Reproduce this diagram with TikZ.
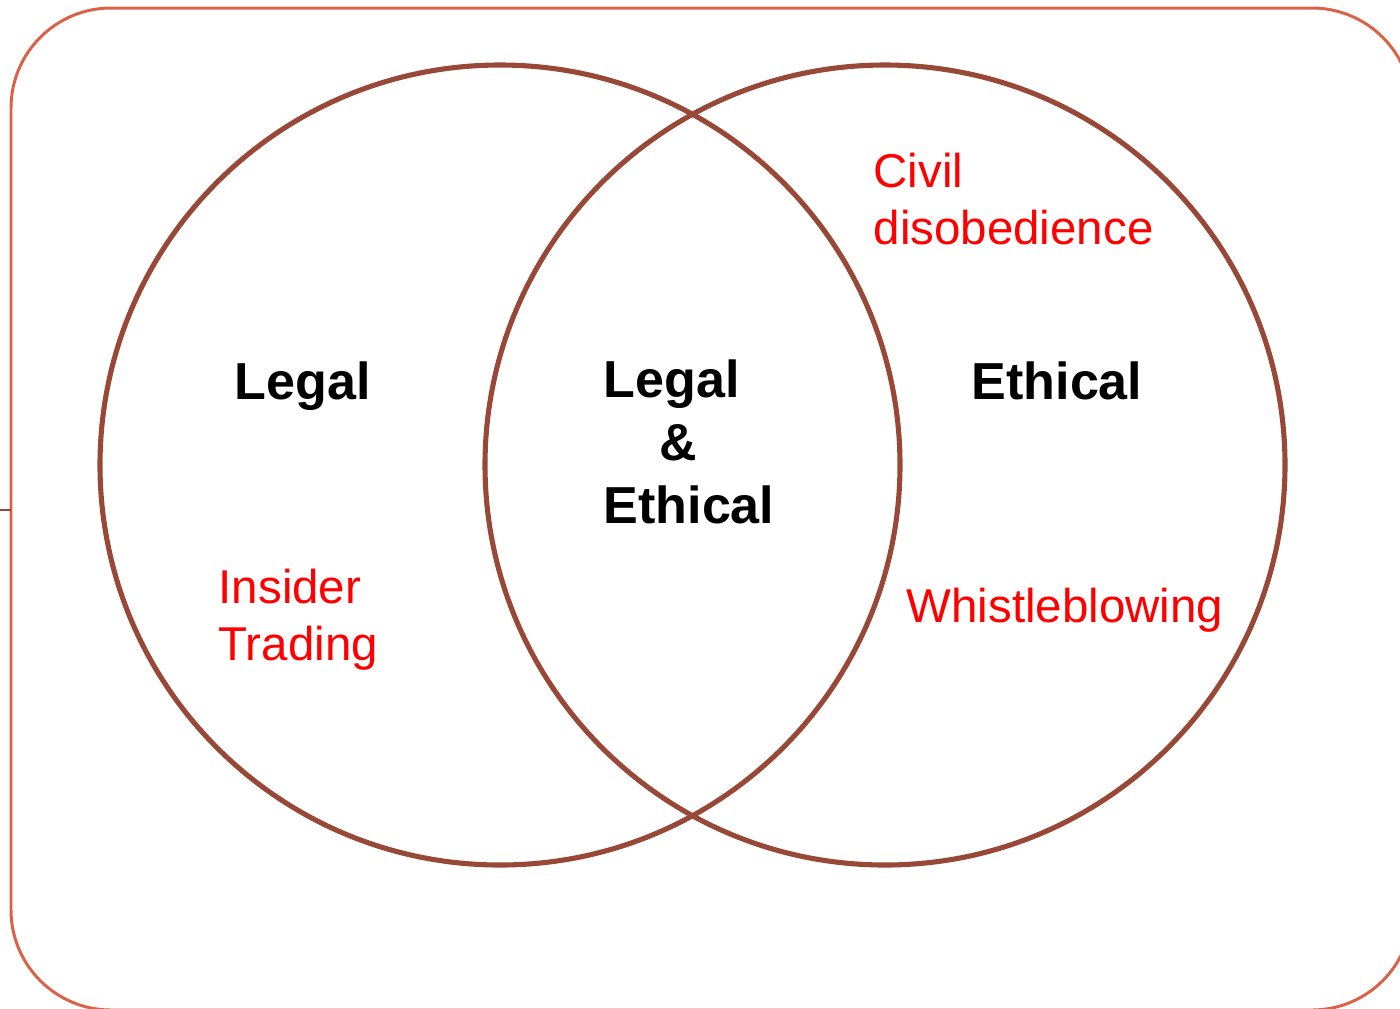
\documentclass[tikz,border=0pt]{standalone}
\usepackage{fontspec}
\setmainfont{Liberation Sans}
\usetikzlibrary{positioning}
\definecolor{frame}{RGB}{218,98,72}
\definecolor{ring}{RGB}{152,72,54}
\definecolor{note}{RGB}{255,0,0}
\tikzset{
  set/.style={draw=ring,line width=1.45pt},
  head/.style={inner sep=0pt,align=left,font=\fontsize{14.8}{17.8}\selectfont\bfseries},
  case/.style={inner sep=0pt,align=left,text=note,font=\fontsize{13.5}{16.2}\selectfont}
}
\begin{document}
\begin{tikzpicture}[x=0.01cm,y=-0.01cm]
  \useasboundingbox (0,0) rectangle (1400,1008);
  \draw[frame,line width=0.85pt,rounded corners=1cm] (11,8) rectangle (1412,1010);
  \draw[ring,line width=0.6pt] (0,510) -- (11,510);
  \draw[set] (500,465) circle [radius=400];
  \draw[set] (885,465) circle [radius=400];
  % multi-line nodes: base is the last line
  \node[head,anchor=base west] (legal) at (234,399) {Legal};
  \node[head,anchor=base west] (ethical) at (971,399) {Ethical};
  \node[head,anchor=base west] (both) at (603,523) {Legal\\\hspace*{1.07em}\&\\Ethical};
  \node[case,anchor=base west] (civil) at (873,244) {Civil\\disobedience};
  \node[case,anchor=base west] (insider) at (218,660) {Insider\\Trading};
  \node[case,anchor=base west] (whistle) at (906,622) {Whistleblowing};
\end{tikzpicture}
\end{document}
